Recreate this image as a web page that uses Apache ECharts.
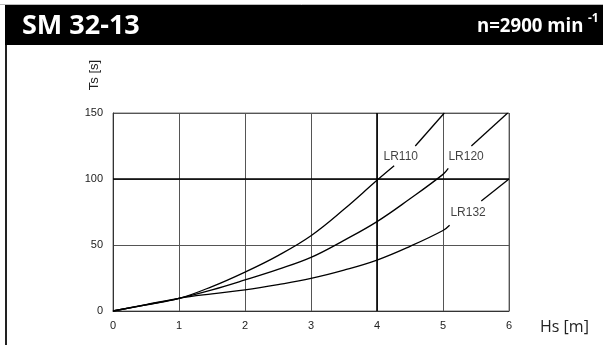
<!DOCTYPE html>
<html>
<head>
<meta charset="utf-8">
<script src="https://cdn.jsdelivr.net/npm/echarts@6/dist/echarts.min.js"></script>
<style>html,body{margin:0;padding:0;background:#fff;}#c{width:603px;height:345px;}</style>
</head>
<body>
<div id="c"></div>
<script>
// ---- data ----
const title = 'SM 32-13';
const speedText = 'n=2900 min';
const speedSup = '-1';
const xName = 'Hs [m]';
const yName = 'Ts [s]';
const xTicks = [0, 1, 2, 3, 4, 5, 6];
const yTicks = [0, 50, 100, 150];

// LR110 (line broken around its label)
const lr110X_a = [0, 0.5, 1, 1.5, 2, 2.5, 3, 3.5, 4, 4.26];
const lr110Y_a = [0, 4.6, 9.5, 18.5, 29.5, 42, 57, 77, 99, 110];
const lr110X_b = [4.58, 5.02];
const lr110Y_b = [125, 150];
// LR120
const lr120X_a = [0, 0.5, 1, 1.5, 2, 2.5, 3, 3.5, 4, 4.5, 5, 5.08];
const lr120Y_a = [0, 4.6, 9.6, 16, 23.5, 31.5, 40.6, 53.5, 67.7, 85, 103.5, 108];
const lr120X_b = [5.43, 5.98];
const lr120Y_b = [125, 150];
// LR132
const lr132X_a = [0, 0.5, 1, 1.5, 2, 2.5, 3, 3.5, 4, 4.5, 5, 5.1];
const lr132Y_a = [0, 4.8, 9.6, 13, 16, 20, 24.7, 31, 38.6, 49, 61, 65];
const lr132X_b = [5.58, 6];
const lr132Y_b = [83.3, 100];

const labelNames = ['LR110', 'LR120', 'LR132'];
const labelX = [4.36, 5.35, 5.38];
const labelY = [117, 117, 74.5];

const zip = (xs, ys) => xs.map((x, i) => [x, ys[i]]);

const lineStyle = { color: '#000', width: 1.3 };
function curve(name, xs, ys) {
  return {
    type: 'line', name: name, data: zip(xs, ys), smooth: 0.4,
    showSymbol: false, symbol: 'none', lineStyle: lineStyle, silent: true, z: 5
  };
}

const chart = echarts.init(document.getElementById('c'), null, { renderer: 'canvas' });
chart.setOption({
  animation: false,
  backgroundColor: '#fff',
  grid: { left: 113, right: 94, top: 113, bottom: 34, show: true, borderColor: '#777', borderWidth: 1 },
  xAxis: {
    type: 'value', min: xTicks[0], max: xTicks[xTicks.length - 1], interval: 1,
    axisLine: { show: true, onZero: false, lineStyle: { color: '#333', width: 1 } }, axisTick: { show: false },
    axisLabel: { color: '#222', fontFamily: 'Liberation Sans', fontSize: 11, margin: 9 },
    splitLine: { show: true, lineStyle: { color: '#555', width: 1 } }
  },
  yAxis: {
    type: 'value', min: yTicks[0], max: yTicks[yTicks.length - 1], interval: 50,
    axisLine: { show: true, onZero: false, lineStyle: { color: '#333', width: 1 } }, axisTick: { show: false },
    axisLabel: { color: '#222', fontFamily: 'Liberation Sans', fontSize: 11, margin: 10 },
    splitLine: { show: true, lineStyle: { color: '#555', width: 1 } }
  },
  series: [
    curve('LR110', lr110X_a, lr110Y_a),
    curve('LR110', lr110X_b, lr110Y_b),
    curve('LR120', lr120X_a, lr120Y_a),
    curve('LR120', lr120X_b, lr120Y_b),
    curve('LR132', lr132X_a, lr132Y_a),
    curve('LR132', lr132X_b, lr132Y_b),
    {
      type: 'line', data: [], silent: true,
      markLine: {
        symbol: 'none', silent: true, label: { show: false },
        lineStyle: { color: '#000', width: 1.6, type: 'solid' },
        data: [{ yAxis: 100 }, { xAxis: 4 }]
      }
    },
    {
      type: 'scatter', symbolSize: 0, silent: true, z: 6,
      data: labelNames.map((n, i) => ({ name: n, value: [labelX[i], labelY[i]] })),
      label: {
        show: true, position: 'inside', formatter: p => p.name,
        color: '#111', fontFamily: 'Liberation Sans', fontSize: 12
      }
    }
  ],
  graphic: [
    { type: 'rect', shape: { x: 5, y: 5, width: 598, height: 40 }, style: { fill: '#000' } },
    { type: 'line', shape: { x1: 0, y1: 4.5, x2: 603, y2: 4.5 }, style: { stroke: '#bbb', lineWidth: 1 } },
    { type: 'line', shape: { x1: 6, y1: 45, x2: 6, y2: 345 }, style: { stroke: '#222', lineWidth: 2 } },
    { type: 'text', x: 22, y: 26,
      style: { text: title, fill: '#fff', font: 'bold 27px "Open Sans"', textVerticalAlign: 'middle' } },
    { type: 'text', x: 477, y: 26, scaleX: 0.93,
      style: { text: speedText, fill: '#fff', font: 'bold 20px "Open Sans"', textAlign: 'left', textVerticalAlign: 'middle' } },
    { type: 'text', x: 588, y: 19,
      style: { text: speedSup, fill: '#fff', font: 'bold 12px "Open Sans"', textAlign: 'left', textVerticalAlign: 'middle' } },
    { type: 'text', x: 540, y: 327,
      style: { text: xName, fill: '#222', font: '16px "Open Sans"', textAlign: 'left', textVerticalAlign: 'middle' } },
    { type: 'text', x: 94, y: 75, rotation: Math.PI / 2,
      style: { text: yName, fill: '#222', font: '13px "Liberation Sans"', textAlign: 'center', textVerticalAlign: 'middle' } }
  ]
});
</script>
</body>
</html>
